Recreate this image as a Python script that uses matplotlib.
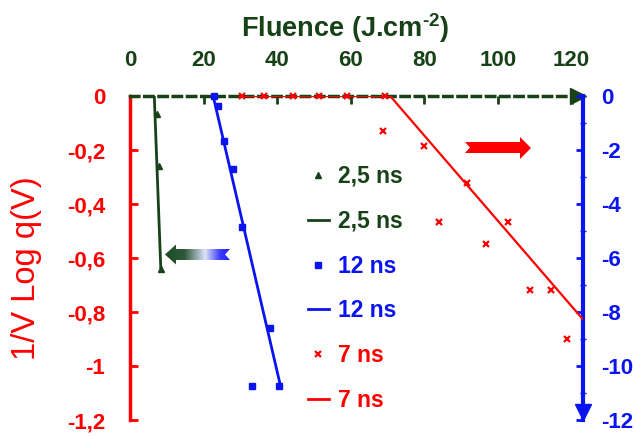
import numpy as np
import matplotlib
matplotlib.use("Agg")
import matplotlib.pyplot as plt
from matplotlib.lines import Line2D
from matplotlib.patches import Polygon
from matplotlib.colors import LinearSegmentedColormap

# ---------------- data ----------------
# 2.5 ns (left axis)
g_pts_x = [7.3, 7.9, 8.4]
g_pts_y = [-0.067, -0.26, -0.64]
g_line_x = [6.6, 8.4]
g_line_y = [0.0, -0.65]

# 12 ns (left axis)
b_pts_x = [22.9, 23.8, 25.5, 28.0, 30.5, 38.0, 33.1, 40.6]
b_pts_y = [0.0, -0.036, -0.166, -0.271, -0.485, -0.858, -1.073, -1.073]
b_line_x = [22.6, 41.0]
b_line_y = [0.0, -1.08]

# 7 ns (right axis)
r_pts_x = [30.4, 36.5, 44.2, 51.4, 58.9, 69.3, 68.8, 80.0, 91.5, 84.0, 102.8, 96.7, 108.7, 114.4, 118.7]
r_pts_y = [0, 0, 0, 0, 0, 0, -1.29, -1.85, -3.21, -4.68, -4.68, -5.48, -7.19, -7.19, -9.01]
r_line_x = [29.9, 70.7, 123.0]
r_line_y = [0.0, 0.0, -8.26]

x_ticks = [0, 20, 40, 60, 80, 100, 120]
left_ticks = [0, -0.2, -0.4, -0.6, -0.8, -1.0, -1.2]
left_labels = ["0", "-0,2", "-0,4", "-0,6", "-0,8", "-1", "-1,2"]
right_ticks = [0, -2, -4, -6, -8, -10, -12]
right_labels = ["0", "-2", "-4", "-6", "-8", "-10", "-12"]

GREEN = "#174217"
RED = "#ff0000"
BLUE = "#0a14f0"

W, H = 635, 436
plt.rcParams['font.family'] = ['Liberation Sans', 'DejaVu Sans']
plt.rcParams['mathtext.fontset'] = 'custom'
plt.rcParams['mathtext.rm'] = 'Liberation Sans:bold'
plt.rcParams['mathtext.bf'] = 'Liberation Sans:bold'
fig = plt.figure(figsize=(W / 100, H / 100), dpi=100)

x0, x1, ytop, ybot = 130, 583, 96, 420
ax = fig.add_axes([x0 / W, (H - ybot) / H, (x1 - x0) / W, (ybot - ytop) / H])
ax.set_xlim(0, 123.1)
ax.set_ylim(-1.2, 0)
ax2 = ax.twinx()
ax2.set_ylim(-12, 0)

for a in (ax, ax2):
    for s in a.spines.values():
        s.set_visible(False)
    a.patch.set_visible(False)

ax.spines['left'].set_visible(True)
ax.spines['left'].set_color(RED)
ax.spines['left'].set_linewidth(2.5)
ax.spines['top'].set_visible(True)
ax.spines['top'].set_color(GREEN)
ax.spines['top'].set_linewidth(2.5)
ax.spines['top'].set_linestyle((0, (2.4, 1.7)))
ax2.spines['right'].set_visible(True)
ax2.spines['right'].set_color(BLUE)
ax2.spines['right'].set_linewidth(3)

ax.xaxis.tick_top()
ax.xaxis.set_label_position('top')
ax.set_xticks(x_ticks)
ax.set_xticklabels([str(v) for v in x_ticks])
ax.tick_params(axis='x', direction='in', length=6, width=2, colors=GREEN,
               labelsize=16, pad=18, top=True, bottom=False)
for t in ax.get_xticklabels():
    t.set_fontweight('bold')

ax.set_yticks(left_ticks)
ax.set_yticklabels(left_labels)
ax.tick_params(axis='y', direction='in', length=6, width=2, colors=RED,
               labelsize=16, pad=18)
for t in ax.get_yticklabels():
    t.set_fontweight('bold')

ax2.set_yticks(right_ticks)
ax2.set_yticklabels(right_labels)
ax2.set_yticks(np.arange(-11, 0, 2), minor=True)
ax2.tick_params(axis='y', which='major', direction='in', length=5, width=2,
                colors=BLUE, labelsize=16, pad=13)
ax2.tick_params(axis='y', which='minor', direction='inout', length=4, width=1,
                colors=BLUE)
for t in ax2.get_yticklabels():
    t.set_fontweight('bold')

# data
ax.plot(g_line_x, g_line_y, color=GREEN, lw=2, zorder=3)
ax.plot(g_pts_x, g_pts_y, ls='none', marker='^', ms=4, color=GREEN, zorder=4)
ax.plot(b_line_x, b_line_y, color=BLUE, lw=2, zorder=3)
ax.plot(b_pts_x, b_pts_y, ls='none', marker='s', ms=4.5, color=BLUE, zorder=4, clip_on=False)
ax2.plot(r_line_x, r_line_y, color=RED, lw=1.6, zorder=3)
ax2.plot(r_pts_x, r_pts_y, ls='none', marker='x', ms=4.5, mew=1.6, color=RED, zorder=4, clip_on=False)

# arrow heads on axis lines
ax.plot([0.988], [1.0], marker='>', ms=11, color=GREEN, transform=ax.transAxes, clip_on=False, zorder=6)
ax2.plot([1.0], [0.025], marker='v', ms=11, color=BLUE, transform=ax2.transAxes, clip_on=False, zorder=6)

# title and y label
fig.text(345 / W, 1 - 28 / H, r"Fluence (J.cm$^{\text{-2}}$)", color=GREEN, fontsize=19.5,
         fontweight='bold', ha='center', va='center')
fig.text(27 / W, 1 - 268 / H, "1/V Log q(V)", color=RED, fontsize=23.5,
         rotation=90, ha='center', va='center')

# legend
handles = [
    Line2D([], [], ls='none', marker='^', ms=4, color=GREEN),
    Line2D([], [], color=GREEN, lw=2),
    Line2D([], [], ls='none', marker='s', ms=5, color=BLUE),
    Line2D([], [], color=BLUE, lw=2),
    Line2D([], [], ls='none', marker='x', ms=4, mew=1.6, color=RED),
    Line2D([], [], color=RED, lw=2),
]
labels = ["2,5 ns", "2,5 ns", "12 ns", "12 ns", "7 ns", "7 ns"]
leg = fig.legend(handles, labels, loc='upper left', bbox_to_anchor=(308 / W, 1 - 165 / H),
                 frameon=False, prop={'size': 16.5, 'weight': 'bold'}, handlelength=0.9,
                 handletextpad=0.4, labelspacing=0.95, borderpad=0, borderaxespad=0)
for t, c in zip(leg.get_texts(), [GREEN, GREEN, BLUE, BLUE, RED, RED]):
    t.set_color(c)

# decorative block arrows (overlay in pixel coordinates)
ov = fig.add_axes([0, 0, 1, 1], zorder=10)
ov.set_xlim(0, W)
ov.set_ylim(H, 0)
ov.axis('off')
red_arrow = [(465, 142), (520, 142), (520, 137), (531, 148), (520, 159), (520, 153),
             (465, 153), (470, 147.5)]
ov.add_patch(Polygon(red_arrow, closed=True, color=RED, lw=0))

ga = [(165, 254.5), (176, 244.5), (176, 249), (230, 249), (225, 254.5), (230, 260),
      (176, 260), (176, 264.5)]
poly = Polygon(ga, closed=True, facecolor='none', edgecolor='none')
ov.add_patch(poly)
cmap = LinearSegmentedColormap.from_list('ga', [(0.0, '#1c4a24'), (0.3, '#2e5a3a'),
                                                (0.62, '#dde2fa'), (0.85, '#3a3cf5'),
                                                (1.0, '#2020ff')])
grad = np.linspace(0, 1, 256).reshape(1, -1)
im = ov.imshow(grad, cmap=cmap, extent=(165, 230, 265, 244), aspect='auto', zorder=11)
im.set_clip_path(poly)

fig.savefig("out.png", dpi=100)
